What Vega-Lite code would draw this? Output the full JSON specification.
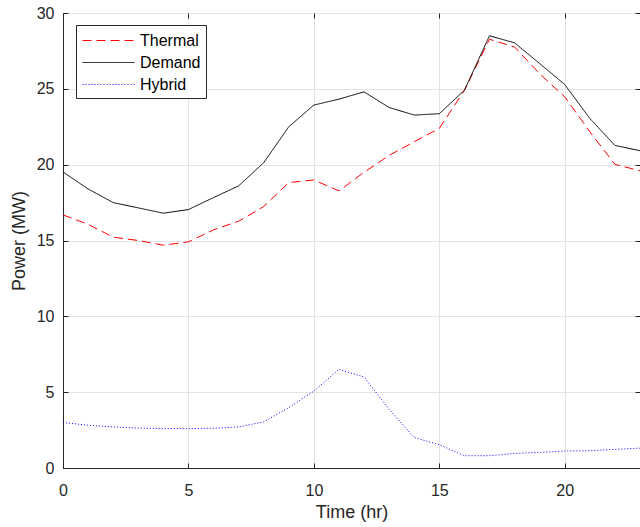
{
  "$schema": "https://vega.github.io/schema/vega-lite/v6.json",
  "width": 577,
  "height": 455,
  "autosize": {"type": "none"},
  "padding": {"left": 63, "top": 13, "right": 0, "bottom": 59},
  "background": "white",
  "config": {
    "font": "Liberation Sans",
    "view": {"stroke": "#262626", "strokeWidth": 1},
    "axis": {
      "labelFont": "Liberation Sans",
      "titleFont": "Liberation Sans",
      "labelFontSize": 16,
      "titleFontSize": 18,
      "titleFontWeight": "normal",
      "labelColor": "#262626",
      "titleColor": "#262626",
      "domainColor": "#262626",
      "tickColor": "#262626",
      "gridColor": "#e3e3e3",
      "gridOpacity": 1,
      "tickSize": -5
    }
  },
  "data": {
    "values": [
      {"hour": 0, "series": "Thermal", "power": 16.69},
      {"hour": 1, "series": "Thermal", "power": 16.07},
      {"hour": 2, "series": "Thermal", "power": 15.22},
      {"hour": 3, "series": "Thermal", "power": 15.0},
      {"hour": 4, "series": "Thermal", "power": 14.69},
      {"hour": 5, "series": "Thermal", "power": 14.91},
      {"hour": 6, "series": "Thermal", "power": 15.7},
      {"hour": 7, "series": "Thermal", "power": 16.27},
      {"hour": 8, "series": "Thermal", "power": 17.24},
      {"hour": 9, "series": "Thermal", "power": 18.82},
      {"hour": 10, "series": "Thermal", "power": 18.99},
      {"hour": 11, "series": "Thermal", "power": 18.27},
      {"hour": 12, "series": "Thermal", "power": 19.5},
      {"hour": 13, "series": "Thermal", "power": 20.61},
      {"hour": 14, "series": "Thermal", "power": 21.51},
      {"hour": 15, "series": "Thermal", "power": 22.39},
      {"hour": 16, "series": "Thermal", "power": 24.9},
      {"hour": 17, "series": "Thermal", "power": 28.27},
      {"hour": 18, "series": "Thermal", "power": 27.76},
      {"hour": 19, "series": "Thermal", "power": 26.0},
      {"hour": 20, "series": "Thermal", "power": 24.47},
      {"hour": 21, "series": "Thermal", "power": 22.17},
      {"hour": 22, "series": "Thermal", "power": 20.02},
      {"hour": 23, "series": "Thermal", "power": 19.6},
      {"hour": 0, "series": "Demand", "power": 19.52},
      {"hour": 1, "series": "Demand", "power": 18.4},
      {"hour": 2, "series": "Demand", "power": 17.5},
      {"hour": 3, "series": "Demand", "power": 17.15},
      {"hour": 4, "series": "Demand", "power": 16.8},
      {"hour": 5, "series": "Demand", "power": 17.04},
      {"hour": 6, "series": "Demand", "power": 17.83},
      {"hour": 7, "series": "Demand", "power": 18.6},
      {"hour": 8, "series": "Demand", "power": 20.13},
      {"hour": 9, "series": "Demand", "power": 22.5},
      {"hour": 10, "series": "Demand", "power": 23.93},
      {"hour": 11, "series": "Demand", "power": 24.32},
      {"hour": 12, "series": "Demand", "power": 24.8},
      {"hour": 13, "series": "Demand", "power": 23.77},
      {"hour": 14, "series": "Demand", "power": 23.27},
      {"hour": 15, "series": "Demand", "power": 23.36},
      {"hour": 16, "series": "Demand", "power": 24.9},
      {"hour": 17, "series": "Demand", "power": 28.5},
      {"hour": 18, "series": "Demand", "power": 28.03},
      {"hour": 19, "series": "Demand", "power": 26.67},
      {"hour": 20, "series": "Demand", "power": 25.28},
      {"hour": 21, "series": "Demand", "power": 23.05},
      {"hour": 22, "series": "Demand", "power": 21.27},
      {"hour": 23, "series": "Demand", "power": 20.92},
      {"hour": 0, "series": "Hybrid", "power": 3.0},
      {"hour": 1, "series": "Hybrid", "power": 2.82},
      {"hour": 2, "series": "Hybrid", "power": 2.71},
      {"hour": 3, "series": "Hybrid", "power": 2.63},
      {"hour": 4, "series": "Hybrid", "power": 2.6},
      {"hour": 5, "series": "Hybrid", "power": 2.6},
      {"hour": 6, "series": "Hybrid", "power": 2.62},
      {"hour": 7, "series": "Hybrid", "power": 2.71},
      {"hour": 8, "series": "Hybrid", "power": 3.04},
      {"hour": 9, "series": "Hybrid", "power": 3.98},
      {"hour": 10, "series": "Hybrid", "power": 5.07},
      {"hour": 11, "series": "Hybrid", "power": 6.5},
      {"hour": 12, "series": "Hybrid", "power": 6.0},
      {"hour": 13, "series": "Hybrid", "power": 3.87},
      {"hour": 14, "series": "Hybrid", "power": 2.01},
      {"hour": 15, "series": "Hybrid", "power": 1.53},
      {"hour": 16, "series": "Hybrid", "power": 0.81},
      {"hour": 17, "series": "Hybrid", "power": 0.81},
      {"hour": 18, "series": "Hybrid", "power": 0.96},
      {"hour": 19, "series": "Hybrid", "power": 1.03},
      {"hour": 20, "series": "Hybrid", "power": 1.12},
      {"hour": 21, "series": "Hybrid", "power": 1.14},
      {"hour": 22, "series": "Hybrid", "power": 1.23},
      {"hour": 23, "series": "Hybrid", "power": 1.31}
    ]
  },
  "layer": [
    {
      "mark": {"type": "line", "strokeWidth": 1, "opacity": 0},
      "encoding": {
        "x": {
          "field": "hour", "type": "quantitative",
          "scale": {"domain": [0, 23], "nice": false, "zero": false},
          "axis": {"orient": "top", "title": null, "labels": false, "grid": false, "domain": false, "values": [0, 5, 10, 15, 20]}
        },
        "y": {
          "field": "power", "type": "quantitative",
          "scale": {"domain": [0, 30], "nice": false},
          "axis": {"orient": "right", "title": null, "labels": false, "grid": false, "domain": false, "values": [0, 5, 10, 15, 20, 25, 30]}
        },
        "detail": {"field": "series", "type": "nominal"}
      }
    },
    {
      "mark": {"type": "line", "strokeWidth": 1, "clip": true},
      "encoding": {
        "x": {
          "field": "hour", "type": "quantitative",
          "scale": {"domain": [0, 23], "nice": false, "zero": false},
          "axis": {"orient": "bottom", "grid": true, "title": "Time (hr)", "values": [0, 5, 10, 15, 20], "labelPadding": 19, "titlePadding": 5, "labelFlush": false}
        },
        "y": {
          "field": "power", "type": "quantitative",
          "scale": {"domain": [0, 30], "nice": false},
          "axis": {"orient": "left", "grid": true, "title": "Power (MW)", "values": [0, 5, 10, 15, 20, 25, 30], "labelPadding": 14, "titlePadding": 8}
        },
        "color": {
          "field": "series", "type": "nominal",
          "scale": {"domain": ["Thermal", "Demand", "Hybrid"], "range": ["#ff0000", "#000000", "#0000ff"]},
          "legend": {
            "title": null,
            "orient": "none",
            "legendX": 13,
            "legendY": 12,
            "direction": "vertical",
            "fillColor": "white",
            "strokeColor": "#262626",
            "padding": 5,
            "symbolType": "M-0.9,0H4.3",
            "symbolSize": 400,
            "symbolStrokeWidth": 1,
            "labelFont": "Liberation Sans",
            "labelFontSize": 16,
            "labelColor": "#000000",
            "labelOffset": 38,
            "rowPadding": 3
          }
        },
        "strokeDash": {
          "field": "series", "type": "nominal",
          "scale": {"domain": ["Thermal", "Demand", "Hybrid"], "range": [[9, 5], [1, 0], [1, 2]]}
        }
      }
    }
  ]
}
